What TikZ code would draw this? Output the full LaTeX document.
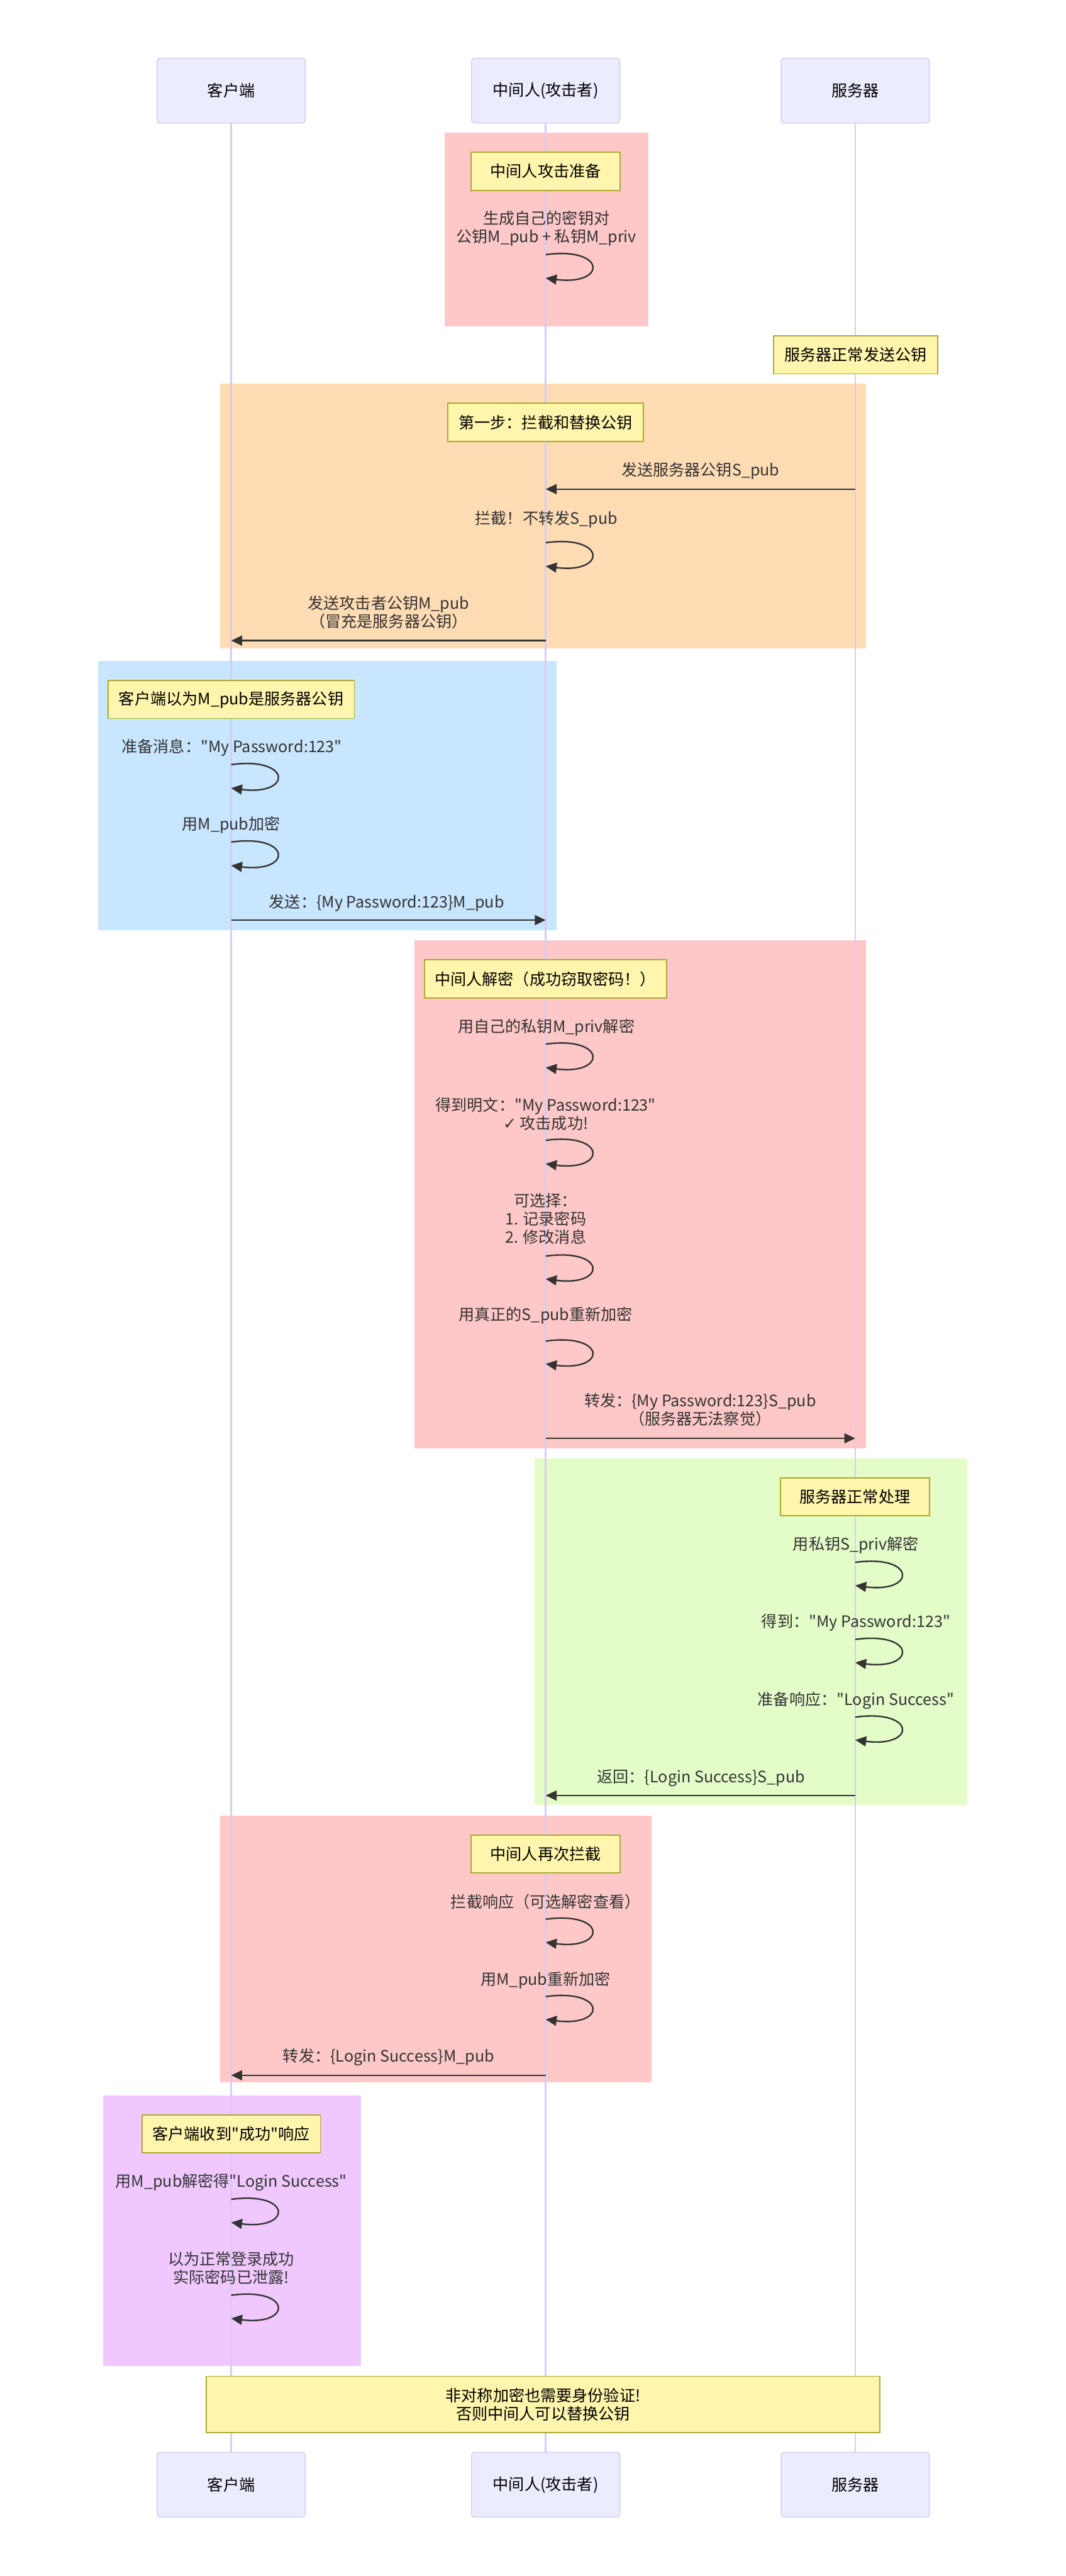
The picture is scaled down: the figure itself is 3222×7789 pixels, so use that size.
\documentclass[tikz,border=0pt]{standalone}
\usepackage{fontspec}
\newfontfamily\cjkfont{Noto Sans CJK SC}
\newfontfamily\symfont{DejaVu Sans}
\usepackage{tikz}
\usetikzlibrary{arrows.meta}
\usepackage{xcolor}
\definecolor{actorfill}{RGB}{236,236,255}
\definecolor{actorline}{RGB}{214,204,243}
\definecolor{notefill}{RGB}{255,245,173}
\definecolor{noteline}{RGB}{170,170,51}
\definecolor{signal}{RGB}{51,51,51}
\definecolor{zonered}{RGB}{255,200,200}
\definecolor{zoneorange}{RGB}{255,220,180}
\definecolor{zoneblue}{RGB}{200,230,255}
\definecolor{zonegreen}{RGB}{228,253,200}
\definecolor{zonepurple}{RGB}{240,200,255}

\begin{document}
\begin{tikzpicture}[x=0.1mm,y=-0.1mm,
    txt/.style={font=\cjkfont\fontsize{13.6}{15.8}\selectfont, text=signal, align=center, inner sep=0pt},
    actor/.style={draw=actorline, fill=actorfill, line width=0.3mm, rounded corners=0.9mm,
      minimum width=44.8mm, minimum height=19.6mm, font=\cjkfont\fontsize{13.6}{15.8}\selectfont},
    note/.style={draw=noteline, fill=notefill, line width=0.35mm, minimum height=11.5mm,
      align=center, font=\cjkfont\fontsize{13.6}{15.8}\selectfont},
    msg/.style={draw=signal, line width=0.45mm, -{Triangle[length=3.3mm,width=3mm]}},
    life/.style={draw=actorline, line width=0.5mm}]
    \useasboundingbox (0,0) rectangle (3222,7789);

    % Zone shading
    \fill[zonered]    (1344,401)  rectangle (1961,986);
    \fill[zoneorange] (665,1160)  rectangle (2618,1961);
    \fill[zoneblue]   (296,1998)  rectangle (1682,2813);
    \fill[zonered]    (1253,2843) rectangle (2618,4379);
    \fill[zonegreen]  (1617,4409) rectangle (2924,5458);
    \fill[zonered]    (665,5489)  rectangle (1970,6296);
    \fill[zonepurple] (311,6336)  rectangle (1092,7153);

    % Actors, top and bottom
    \node[actor] (cli)   at (699,274)   {客户端};
    \node[actor] (mitm)  at (1650,274)  {中间人(攻击者)};
    \node[actor] (srv)   at (2586,274)  {服务器};
    \node[actor] (cliB)  at (699,7513)  {客户端};
    \node[actor] (mitmB) at (1650,7513) {中间人(攻击者)};
    \node[actor] (srvB)  at (2586,7513) {服务器};

    % Lifelines
    \draw[life] (cli) -- (cliB);
    \draw[life] (mitm) -- (mitmB);
    \draw[life] (srv) -- (srvB);

    % Notes
    \node[note, minimum width=45mm]   (prepnote)  at (1650,518)  {中间人攻击准备};
    \node[note, minimum width=49.5mm] (srvnote)   at (2587,1073) {服务器正常发送公钥};
    \node[note, minimum width=59.1mm] (stepnote)  at (1650,1277) {第一步：拦截和替换公钥};
    \node[note, minimum width=74.5mm] (clinote)   at (699,2115)  {客户端以为M\_pub是服务器公钥};
    \node[note, minimum width=73.2mm] (decnote)   at (1649,2960) {中间人解密（成功窃取密码！）};
    \node[note, minimum width=45mm]   (procnote)  at (2585,4526) {服务器正常处理};
    \node[note, minimum width=45.1mm] (againnote) at (1650,5606) {中间人再次拦截};
    \node[note, minimum width=54mm]   (recvnote)  at (699,6452)  {客户端收到"成功"响应};
    \node[note, minimum width=203.8mm, minimum height=17mm] (authnote) at (1642,7270)
      {非对称加密也需要身份验证!\\否则中间人可以替换公钥};

    % Attacker prepares keys
    \node[txt] (genkey) at (1652,690) {生成自己的密钥对\\公钥M\_pub + 私钥M\_priv};
    \draw[msg] (mitm |- 0,770) .. controls +(185,-25) and +(185,24) .. (mitm |- 0,841);

    % Step 1: swap the public key
    \node[txt] (sendspub) at (2118,1424) {发送服务器公钥S\_pub};
    \draw[msg] (srv |- 0,1479) -- (mitm |- 0,1479);
    \node[txt] (block) at (1652,1570) {拦截！不转发S\_pub};
    \draw[msg] (mitm |- 0,1641) .. controls +(185,-25) and +(185,24) .. (mitm |- 0,1712);
    \node[txt] (sendmpub) at (1175,1851) {发送攻击者公钥M\_pub\\（冒充是服务器公钥）};
    \draw[msg] (mitm |- 0,1937) -- (cli |- 0,1937);

    % Client encrypts with the fake key
    \node[txt] (prepmsg) at (701,2260) {准备消息："My Password:123"};
    \draw[msg] (cli |- 0,2312) .. controls +(185,-25) and +(185,24) .. (cli |- 0,2383);
    \node[txt] (encm) at (699,2495) {用M\_pub加密};
    \draw[msg] (cli |- 0,2546) .. controls +(185,-25) and +(185,24) .. (cli |- 0,2617);
    \node[txt] (sendenc) at (1169,2731) {发送：\{My Password:123\}M\_pub};
    \draw[msg] (cli |- 0,2782) -- (mitm |- 0,2782);

    % Attacker decrypts and re-encrypts
    \node[txt] (decm) at (1652,3106) {用自己的私钥M\_priv解密};
    \draw[msg] (mitm |- 0,3157) .. controls +(185,-25) and +(185,24) .. (mitm |- 0,3228);
    \node[txt] (plain) at (1650,3368) {得到明文："My Password:123"\\{\symfont ✓} 攻击成功!};
    \draw[msg] (mitm |- 0,3448) .. controls +(185,-25) and +(185,24) .. (mitm |- 0,3519);
    \node[txt] (choose) at (1650,3685) {可选择：\\1. 记录密码\\2. 修改消息};
    \draw[msg] (mitm |- 0,3798) .. controls +(185,-25) and +(185,24) .. (mitm |- 0,3867);
    \node[txt] (reenc) at (1650,3978) {用真正的S\_pub重新加密};
    \draw[msg] (mitm |- 0,4055) .. controls +(185,-25) and +(185,24) .. (mitm |- 0,4124);
    \node[txt] (fwd) at (2117,4263) {转发：\{My Password:123\}S\_pub\\（服务器无法察觉）};
    \draw[msg] (mitm |- 0,4349) -- (srv |- 0,4349);

    % Server handles the request
    \node[txt] (decs) at (2588,4671) {用私钥S\_priv解密};
    \draw[msg] (srv |- 0,4724) .. controls +(185,-25) and +(185,24) .. (srv |- 0,4794);
    \node[txt] (gotpw) at (2588,4906) {得到："My Password:123"};
    \draw[msg] (srv |- 0,4957) .. controls +(185,-25) and +(185,24) .. (srv |- 0,5027);
    \node[txt] (prepresp) at (2588,5141) {准备响应："Login Success"};
    \draw[msg] (srv |- 0,5192) .. controls +(185,-25) and +(185,24) .. (srv |- 0,5261);
    \node[txt] (ret) at (2120,5376) {返回：\{Login Success\}S\_pub};
    \draw[msg] (srv |- 0,5429) -- (mitm |- 0,5429);

    % Attacker intercepts the reply
    \node[txt] (blockresp) at (1650,5751) {拦截响应（可选解密查看）};
    \draw[msg] (mitm |- 0,5803) .. controls +(185,-25) and +(185,24) .. (mitm |- 0,5873);
    \node[txt] (reencm) at (1650,5987) {用M\_pub重新加密};
    \draw[msg] (mitm |- 0,6037) .. controls +(185,-25) and +(185,24) .. (mitm |- 0,6106);
    \node[txt] (fwdresp) at (1175,6220) {转发：\{Login Success\}M\_pub};
    \draw[msg] (mitm |- 0,6275) -- (cli |- 0,6275);

    % Client is fooled
    \node[txt] (decresp) at (699,6599) {用M\_pub解密得"Login Success"};
    \draw[msg] (cli |- 0,6650) .. controls +(185,-25) and +(185,24) .. (cli |- 0,6720);
    \node[txt] (fooled) at (699,6858) {以为正常登录成功\\实际密码已泄露!};
    \draw[msg] (cli |- 0,6940) .. controls +(185,-25) and +(185,24) .. (cli |- 0,7010);
\end{tikzpicture}
\end{document}
